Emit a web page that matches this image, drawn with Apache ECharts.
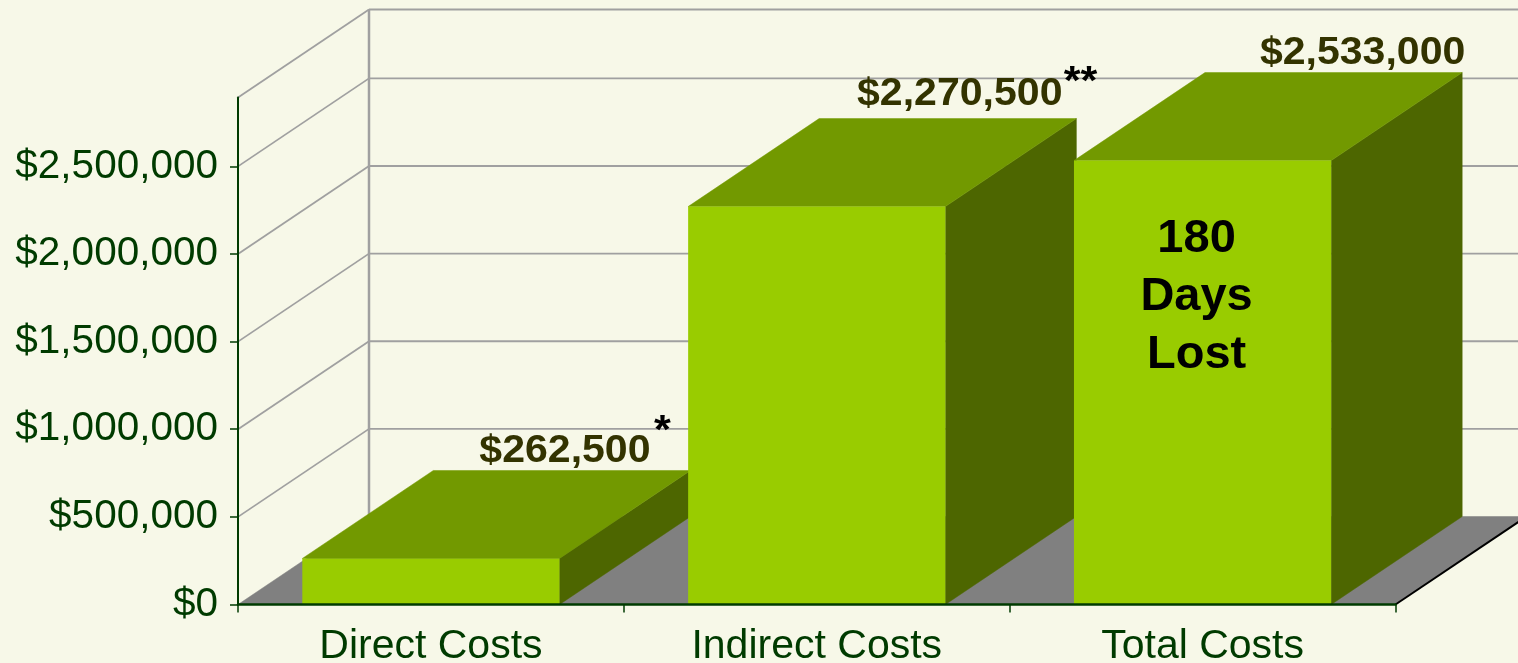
<!DOCTYPE html>
<html lang="en">
<head>
  <meta charset="UTF-8">
  <title>Costs of days lost</title>
  <script src="https://cdn.jsdelivr.net/npm/echarts@6/dist/echarts.min.js"></script>
  <style>
    html, body { margin: 0; padding: 0; background: #f7f8e8; overflow: hidden; }
    #main { width: 1518px; height: 663px; }
  </style>
</head>
<body>
<div id="main"></div>
<script>
  var categories = ['Direct Costs', 'Indirect Costs', 'Total Costs'];
  var costs = [262500, 2270500, 2533000];
  var costLabels = ['$262,500', '$2,270,500', '$2,533,000'];
  var costNotes = ['*', '**', ''];
  var yTicks = [0, 500000, 1000000, 1500000, 2000000, 2500000];
  var yMax = 2893000;
  var barNote = ['180', 'Days', 'Lost'];

  // fake 3d: how far the back of the box sits from the front, in pixels
  var DEPTH_X = 131;
  var DEPTH_Y = -88;
  var FONT = '"Liberation Sans", Arial, sans-serif';
  var AXIS_COLOR = '#003b00';
  // where each value label sits, relative to the top centre of its front face
  var labelShift = [[134, -107], [143, -112.5], [160, -107.5]];
  // where the asterisks sit, relative to the centre of the value label
  var noteShift = [[89, -20], [104, -11.5], [0, 0]];

  var myChart = echarts.init(document.getElementById('main'));

  function face(points, color) {
    return {
      type: 'polygon',
      shape: { points: points },
      style: { fill: color, stroke: color, lineWidth: 0.5 }
    };
  }

  function line(x1, y1, x2, y2, width, color) {
    return {
      type: 'line',
      shape: { x1: x1, y1: y1, x2: x2, y2: y2 },
      style: { stroke: color, lineWidth: width }
    };
  }

  function text(str, x, y, font, color, align, stretch) {
    return {
      type: 'text',
      x: x,
      y: y,
      scaleX: stretch,
      style: { text: str, font: font, fill: color, align: align, verticalAlign: 'middle' }
    };
  }

  function renderFloor(params, api) {
    var sys = params.coordSys;
    var y = api.coord([0, api.value(0)])[1];
    var right = sys.x + sys.width;
    return {
      type: 'group',
      children: [
        face([[sys.x, y], [right, y], [right + DEPTH_X, y + DEPTH_Y], [sys.x + DEPTH_X, y + DEPTH_Y]], '#808080'),
        line(right, y, right + DEPTH_X, y + DEPTH_Y, 2, '#000000')
      ]
    };
  }

  function renderWall(params, api) {
    var sys = params.coordSys;
    var y = api.coord([0, api.value(0)])[1];
    var children = [
      line(sys.x, y, sys.x + DEPTH_X, y + DEPTH_Y, 1.8, '#a0a0a0'),
      line(sys.x + DEPTH_X, y + DEPTH_Y, sys.x + sys.width + DEPTH_X, y + DEPTH_Y, 1.8, '#a0a0a0')
    ];
    if (params.dataIndex === 0) {
      children.push(line(sys.x + DEPTH_X, sys.y + DEPTH_Y, sys.x + DEPTH_X, sys.y + sys.height + DEPTH_Y, 2.5, '#a0a0a0'));
    }
    return { type: 'group', children: children };
  }

  function renderBar(params, api) {
    var i = api.value(0);
    var top = api.coord([i, api.value(1)]);
    var base = api.coord([i, 0]);
    var width = api.size([1, 0])[0] * 2 / 3;
    var l = top[0] - width / 2;
    var r = l + width;
    return {
      type: 'group',
      children: [
        face([[r, top[1]], [r + DEPTH_X, top[1] + DEPTH_Y], [r + DEPTH_X, base[1] + DEPTH_Y], [r, base[1]]], '#4d6600'),
        face([[l, top[1]], [r, top[1]], [r + DEPTH_X, top[1] + DEPTH_Y], [l + DEPTH_X, top[1] + DEPTH_Y]], '#729900'),
        { type: 'rect', shape: { x: l, y: top[1], width: width, height: base[1] - top[1] }, style: { fill: '#99cc00' } }
      ]
    };
  }

  // labels go in their own series so the next bar can't paint over them
  function renderCostLabel(params, api) {
    var i = api.value(0);
    var top = api.coord([i, api.value(1)]);
    var cx = top[0] + labelShift[i][0];
    var cy = top[1] + labelShift[i][1];
    var children = [
      text(costLabels[i], cx, cy, 'bold 38px ' + FONT, '#333300', 'center', 1.08)
    ];
    if (costNotes[i]) {
      children.push(text(costNotes[i], cx + noteShift[i][0], cy + noteShift[i][1], 'bold 40px ' + FONT, '#000000', 'left', 1.08));
    }
    return { type: 'group', children: children };
  }

  function renderBarNote(params, api) {
    var last = categories.length - 1;
    var top = api.coord([last, costs[last]]);
    var i = params.dataIndex;
    return text(barNote[i], top[0] - 6, top[1] + 78.5 + i * 58, 'bold 47px ' + FONT, '#000000', 'center', 1);
  }

  var barData = categories.map(function (name, i) {
    return [i, costs[i]];
  });

  myChart.setOption({
    backgroundColor: '#f7f8e8',
    animation: false,
    grid: { left: 238, right: 122.5, top: 97.5, bottom: 58.5, containLabel: false, outerBoundsMode: 'none' },
    xAxis: {
      type: 'category',
      data: categories,
      z: 10,
      axisLine: { lineStyle: { color: AXIS_COLOR, width: 2.5 } },
      axisTick: { show: true, length: 8, lineStyle: { color: AXIS_COLOR, width: 1.5 } },
      axisLabel: { color: AXIS_COLOR, fontFamily: FONT, fontSize: 41, margin: 22, interval: 0 }
    },
    yAxis: {
      type: 'value',
      min: 0,
      max: yMax,
      interval: 500000,
      z: 10,
      splitLine: { show: false },
      axisLine: { show: true, lineStyle: { color: AXIS_COLOR, width: 2 } },
      axisTick: { show: true, length: 8, customValues: yTicks, lineStyle: { color: AXIS_COLOR, width: 1.5 } },
      axisLabel: {
        color: AXIS_COLOR,
        fontFamily: FONT,
        fontSize: 40.5,
        margin: 20,
        padding: [18, 0, 0, 0],
        customValues: yTicks,
        formatter: function (v) {
          return '$' + echarts.format.addCommas(v);
        }
      }
    },
    series: [
      {
        type: 'custom',
        name: 'wall',
        silent: true,
        clip: false,
        z: 1,
        encode: { y: 0 },
        data: yTicks.slice(1).concat([yMax]).map(function (v) { return [v]; }),
        renderItem: renderWall
      },
      {
        type: 'custom',
        name: 'floor',
        silent: true,
        clip: false,
        z: 1,
        encode: { y: 0 },
        data: [[0]],
        renderItem: renderFloor
      },
      {
        type: 'custom',
        name: 'cost',
        silent: true,
        clip: false,
        z: 2,
        encode: { x: 0, y: 1 },
        data: barData,
        renderItem: renderBar
      },
      {
        type: 'custom',
        name: 'cost label',
        silent: true,
        clip: false,
        z: 3,
        encode: { x: 0, y: 1 },
        data: barData,
        renderItem: renderCostLabel
      },
      {
        type: 'custom',
        name: 'bar note',
        silent: true,
        clip: false,
        z: 3,
        data: barNote.map(function (s, i) { return [i]; }),
        renderItem: renderBarNote
      }
    ]
  });
</script>
</body>
</html>
